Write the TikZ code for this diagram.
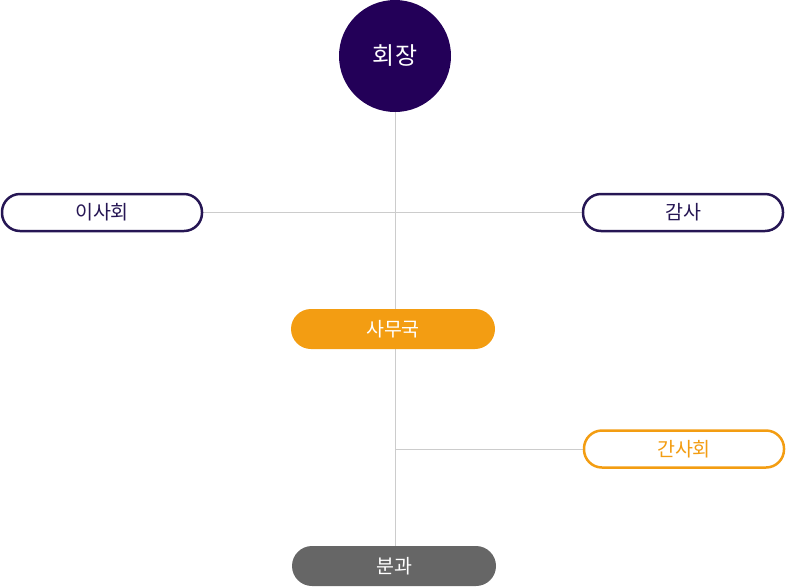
\documentclass[tikz,border=0pt]{standalone}
\usepackage{fontspec}
\usetikzlibrary{backgrounds}
\newfontfamily\krfont{Noto Sans CJK KR}
\definecolor{chair}{RGB}{35,0,88}
\definecolor{navy}{RGB}{38,22,84}
\definecolor{amber}{RGB}{243,157,18}
\definecolor{slate}{RGB}{102,102,102}
\definecolor{wire}{RGB}{204,204,204}
\tikzset{
  pill/.style={rectangle, rounded corners=18pt, minimum width=200pt, minimum height=37pt, inner sep=0pt, font=\krfont\fontsize{19.5}{19.5}\selectfont},
  outlinepill/.style={pill, draw=navy, line width=2.5pt, fill=white, text=navy},
  amberpill/.style={pill, draw=amber, line width=2.5pt, fill=white, text=amber},
  solidpill/.style={pill, minimum width=204pt, minimum height=40pt, rounded corners=20pt, text=white},
  wireline/.style={draw=wire, line width=1pt},
}
\begin{document}
\begin{tikzpicture}[x=1pt,y=-1pt]
\useasboundingbox (0,0) rectangle (786,587);
% nodes
\node[circle, fill=chair, minimum size=112pt, inner sep=0pt, text=white, font=\krfont\fontsize{24}{24}\selectfont] (chair) at (395,56) {회장};
\node[outlinepill] (board) at (102,212.5) {이사회};
\node[outlinepill] (audit) at (683,212.5) {감사};
\node[solidpill, fill=amber] (office) at (393,329) {사무국};
\node[amberpill] (exec) at (684,449) {간사회};
\node[solidpill, fill=slate] (div) at (394,566) {분과};
\coordinate (tap) at (395,449);
% connectors (behind)
\begin{scope}[on background layer]
\draw[wireline] (chair.south) -- (chair.south |- div.north);
\draw[wireline] (board.east) -- (audit.west);
\draw[wireline] (tap) -- (exec.west);
\end{scope}
\end{tikzpicture}
\end{document}
